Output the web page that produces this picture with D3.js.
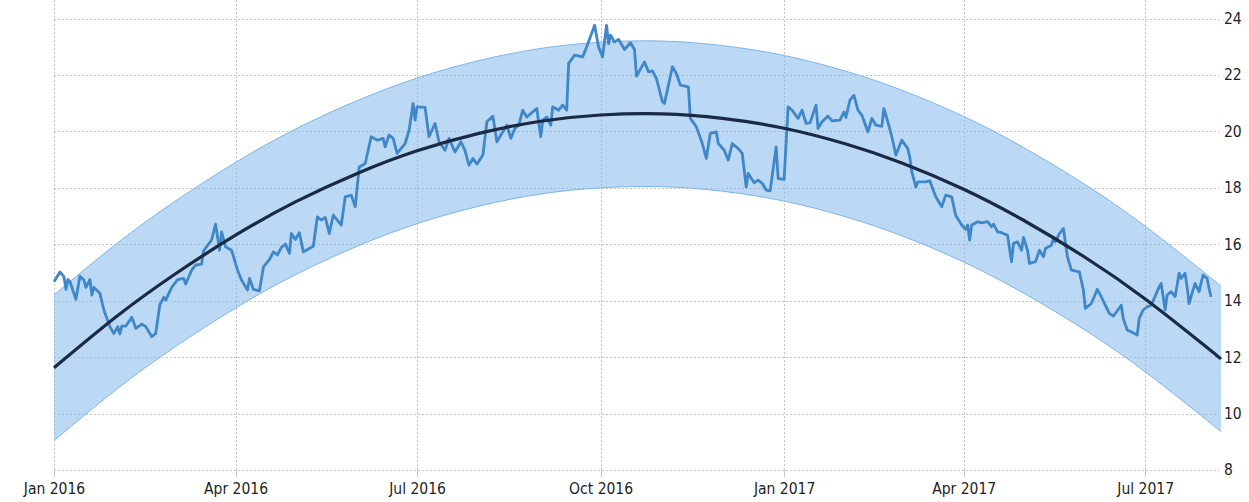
<!DOCTYPE html>
<html>
<head>
<meta charset="utf-8">
<script src="https://cdn.jsdelivr.net/npm/d3@7"></script>
<style>
    body { margin: 0; background: #fff; }
    #chart svg { display: block; }
    .grid line { stroke: #c6c6c6; stroke-width: 1; stroke-dasharray: 2,2; shape-rendering: crispEdges; }
    .axis text { font-family: 'DejaVu Sans Condensed', 'Liberation Sans Narrow', Roboto, sans-serif; font-size: 15.5px; fill: #1e1e1e; }
    .axis .domain { display: none; }
    .axis line { stroke: #c6c6c6; shape-rendering: crispEdges; }
</style>
</head>
<body>
<div id="chart"></div>
<script>
// start of the series, everything else is counted in days from here
const startDate = new Date(2016, 0, 1);
const endDate = new Date(2017, 7, 8);

// [day offset, value]
const prices2016 = [
    [0, 14.67], [3, 15.02], [5, 14.85], [6, 14.40], [7, 14.75], [8, 14.67], [11, 14.05], [13, 14.87], [15, 14.73], [16, 14.47],
    [18, 14.75], [19, 14.20], [20, 14.47], [23, 14.26], [25, 13.67], [28, 13.08], [30, 12.84], [32, 13.08], [33, 12.82], [34, 13.10],
    [36, 13.10], [39, 13.41], [41, 13.02], [44, 13.17], [46, 13.08], [49, 12.72], [51, 12.84], [53, 13.84], [55, 14.12], [56, 14.02],
    [59, 14.47], [62, 14.75], [65, 14.79], [66, 14.59], [69, 15.08], [71, 15.26], [74, 15.30], [75, 15.77], [79, 16.15], [81, 16.71],
    [83, 15.79], [84, 16.44], [86, 15.91], [89, 15.79], [92, 15.08], [94, 14.73], [97, 14.38], [98, 14.79], [100, 14.40], [103, 14.35],
    [105, 15.20], [108, 15.46], [110, 15.73], [112, 15.62], [114, 15.89], [116, 16.01], [118, 15.68], [119, 16.38], [121, 16.17], [123, 16.41],
    [125, 15.73], [130, 15.93], [132, 16.97], [134, 16.86], [136, 16.95], [138, 16.38], [140, 17.03],
    [144, 16.68], [146, 17.68], [149, 17.74], [151, 17.33], [153, 18.74], [156, 18.86], [159, 19.81], [162, 19.69], [165, 19.75], [166, 19.45],
    [168, 19.87], [170, 19.75], [172, 19.22], [176, 19.57], [178, 20.04], [180, 20.99], [181, 20.40], [182, 20.87], [186, 20.85], [188, 19.81],
    [191, 20.28], [193, 19.63], [196, 19.33], [198, 19.75], [201, 19.27], [204, 19.63], [206, 19.33], [208, 18.80], [210, 19.04], [212, 18.84],
    [215, 19.16], [217, 20.34], [220, 20.54], [222, 19.63], [224, 19.87], [227, 20.22], [229, 19.75], [231, 20.10], [233, 20.22], [235, 20.75],
    [237, 20.51], [240, 20.69], [242, 20.81], [244, 19.81], [245, 20.40], [247, 20.51], [249, 20.22], [250, 20.87], [253, 20.75], [255, 20.93],
    [257, 20.75], [258, 22.41], [261, 22.70], [265, 22.64], [267, 22.99], [271, 23.76], [273, 22.99], [275, 22.64], [277, 23.76], [278, 23.11],
    [279, 23.41], [281, 23.17], [283, 23.26], [286, 22.90], [289, 23.14], [291, 22.90], [292, 21.96],
    [296, 22.46], [298, 22.11], [300, 22.14], [302, 21.87], [305, 21.05], [306, 20.99], [310, 22.29], [312, 22.05], [314, 21.64], [318, 21.58],
    [319, 20.46], [322, 20.16], [325, 19.57], [327, 19.04], [329, 19.93], [332, 19.98], [333, 19.57], [336, 19.33], [338, 18.98], [340, 19.57],
    [343, 19.39], [345, 19.22], [347, 18.03], [348, 18.51], [351, 18.18], [353, 18.27], [355, 18.16], [357, 17.92], [359, 17.89], [362, 19.45],
    [363, 18.33]
];

const prices2017 = [
    [366, 18.30], [368, 20.87], [370, 20.75], [373, 20.46], [375, 20.75], [377, 20.28], [379, 20.30], [382, 20.93], [383, 20.10], [385, 20.34],
    [388, 20.54], [390, 20.37], [394, 20.40], [396, 20.69], [397, 20.49], [399, 21.11], [401, 21.28], [403, 20.75], [405, 20.57], [408, 19.98],
    [410, 20.46], [412, 20.22], [415, 20.18], [416, 20.81], [418, 20.34], [420, 19.81], [422, 19.16], [425, 19.69], [428, 19.39], [429, 19.08],
    [430, 18.57], [432, 18.03], [433, 18.21], [437, 18.21], [439, 18.25], [442, 17.68],
    [445, 17.33], [447, 17.74], [450, 17.68], [452, 17.03], [455, 16.68], [457, 16.53], [458, 16.68], [459, 16.15], [460, 16.68], [463, 16.80],
    [465, 16.76], [468, 16.80], [470, 16.62], [471, 16.71], [473, 16.44], [475, 16.41], [478, 16.32], [480, 15.38], [481, 16.03], [483, 16.09],
    [485, 15.79], [486, 16.24], [488, 15.79], [489, 15.32], [492, 15.38], [494, 15.79], [496, 15.56], [497, 15.85], [500, 15.97], [501, 16.21],
    [502, 16.09], [504, 16.38], [506, 16.56], [508, 15.56], [510, 15.08], [514, 15.02], [516, 14.38], [517, 13.73], [520, 13.90], [523, 14.40],
    [525, 14.14], [527, 13.84], [529, 13.55], [531, 13.45], [535, 13.84], [536, 13.37], [538, 12.96], [541, 12.86], [543, 12.78], [544, 13.37],
    [546, 13.67], [548, 13.78], [550, 13.84], [552, 14.16], [554, 14.49], [555, 14.61], [557, 13.67], [558, 14.20], [560, 14.32], [562, 14.14],
    [564, 14.97], [565, 14.79], [567, 14.97], [568, 14.49], [569, 13.90], [571, 14.38], [572, 14.61], [574, 14.32], [576, 14.91], [578, 14.79],
    [579, 14.44], [580, 14.14]
];

// trend line, read at the start of each month
const trendDays = [0, 31, 60, 91, 121, 152, 182, 213, 244, 274, 305, 335, 366, 397, 425, 456, 486, 517, 547, 578, 585];
const trendValues = [11.62, 13.42, 14.91, 16.32, 17.50, 18.51, 19.31, 19.93, 20.36, 20.58, 20.62, 20.46, 20.11, 19.55, 18.88, 17.95, 16.85, 15.53, 14.06, 12.34, 11.93];
const bandHalfWidth = 2.58;

const yTicks = [8, 10, 12, 14, 16, 18, 20, 22, 24];
const xTickDates = [new Date(2016, 0, 1), new Date(2016, 3, 1), new Date(2016, 6, 1), new Date(2016, 9, 1),
    new Date(2017, 0, 1), new Date(2017, 3, 1), new Date(2017, 6, 1)];
const xTickLabels = ['Jan 2016', 'Apr 2016', 'Jul 2016', 'Oct 2016', 'Jan 2017', 'Apr 2017', 'Jul 2017'];

const width = 1249, height = 502;
const plot = { left: 54, right: 1221, top: 0, bottom: 470, gridEnd: 1219 };

const toDate = (d) => d3.timeDay.offset(startDate, d);
const series = prices2016.concat(prices2017).map((p) => ({ date: toDate(p[0]), value: p[1] }));
const trend = trendDays.map((d, i) => ({ date: toDate(d), value: trendValues[i] }));

const x = d3.scaleTime().domain([startDate, endDate]).range([plot.left, plot.right]);
const y = d3.scaleLinear().domain([8, 24]).range([plot.bottom, 18.5]);

const svg = d3.select('#chart').append('svg')
    .attr('width', width)
    .attr('height', height);

// grid
const grid = svg.append('g').attr('class', 'grid');
grid.selectAll('.horizontal')
    .data(yTicks).enter().append('line')
    .attr('class', 'horizontal')
    .attr('x1', plot.left)
    .attr('x2', plot.gridEnd)
    .attr('y1', (d) => Math.round(y(d)) + 0.5)
    .attr('y2', (d) => Math.round(y(d)) + 0.5);
grid.selectAll('.vertical')
    .data(xTickDates).enter().append('line')
    .attr('class', 'vertical')
    .attr('x1', (d) => Math.round(x(d)) + 0.5)
    .attr('x2', (d) => Math.round(x(d)) + 0.5)
    .attr('y1', plot.top)
    .attr('y2', plot.bottom);

// confidence band around the trend
const band = d3.area()
    .x((d) => x(d.date))
    .y0((d) => y(d.value - bandHalfWidth))
    .y1((d) => y(d.value + bandHalfWidth))
    .curve(d3.curveNatural);
svg.append('path')
    .datum(trend)
    .attr('fill', '#7cb5ec')
    .attr('fill-opacity', 0.52)
    .attr('d', band);

[bandHalfWidth, -bandHalfWidth].forEach((offset) => {
    svg.append('path')
        .datum(trend)
        .attr('fill', 'none')
        .attr('stroke', '#7cb5ec')
        .attr('stroke-width', 1)
        .attr('d', d3.line()
            .x((d) => x(d.date))
            .y((d) => y(d.value + offset))
            .curve(d3.curveNatural));
});

// price series
svg.append('path')
    .datum(series)
    .attr('fill', 'none')
    .attr('stroke', '#3f87c9')
    .attr('stroke-width', 2.8)
    .attr('stroke-linejoin', 'round')
    .attr('d', d3.line()
        .x((d) => x(d.date))
        .y((d) => y(d.value)));

// trend line
svg.append('path')
    .datum(trend)
    .attr('fill', 'none')
    .attr('stroke', '#1b2a44')
    .attr('stroke-width', 3.2)
    .attr('d', d3.line()
        .x((d) => x(d.date))
        .y((d) => y(d.value))
        .curve(d3.curveNatural));

// axes
svg.append('g')
    .attr('class', 'axis')
    .attr('transform', 'translate(' + plot.gridEnd + ',0)')
    .call(d3.axisRight(y).tickValues(yTicks).tickSize(0).tickPadding(5).tickFormat(d3.format('d')));

svg.append('g')
    .attr('class', 'axis')
    .attr('transform', 'translate(0,' + plot.bottom + ')')
    .call(d3.axisBottom(x).tickValues(xTickDates).tickSize(7).tickPadding(6)
        .tickFormat((d, i) => xTickLabels[i]));
</script>
</body>
</html>
